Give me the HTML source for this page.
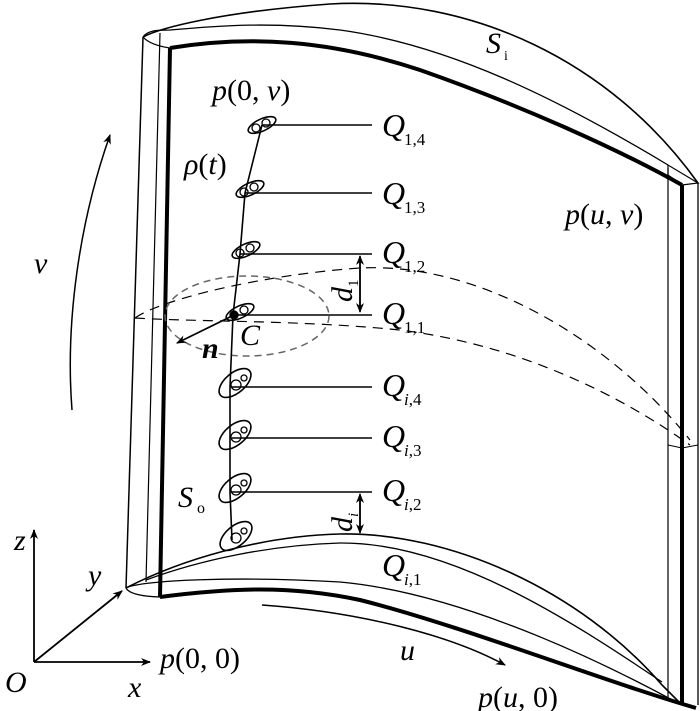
<!DOCTYPE html>
<html><head><meta charset="utf-8"><style>
html,body{margin:0;padding:0;background:#fff;}
svg{display:block;}
text{font-family:"Liberation Serif","DejaVu Serif",serif;fill:#000;}
</style></head><body>
<svg width="700" height="711" viewBox="0 0 700 711" xmlns="http://www.w3.org/2000/svg">
<defs>
<marker id="ah" markerWidth="10" markerHeight="10" refX="9" refY="5" orient="auto" markerUnits="userSpaceOnUse">
<path d="M0,1 L10,5 L0,9 L3,5 Z" fill="#000"/></marker>
</defs>
<g fill="none" stroke="#000">
<path d="M143,37 L126,588" stroke-width="1.5"/>
<path d="M160,33 L146,582" stroke-width="1.2"/>
<path d="M170,48 L160,597" stroke-width="4"/>
<path d="M143,37 C160,28 220,12 330,4 C470,-4 610,60 698,183" stroke-width="1.6"/>
<path d="M143,37 C148,30 158,30 170,30 C200,28 260,20 340,30 C450,45 560,100 668,165" stroke-width="1.3"/>
<path d="M143,37 Q150,45 170,48" stroke-width="1.3"/>
<path d="M170,48 C250,35 330,40 420,70 C520,105 620,150 682,185" stroke-width="4"/>
<path d="M668,165 L668,175 L682,185 L698,183 Z" stroke-width="1.2"/>
<path d="M668,168 L668,700" stroke-width="1.2"/>
<path d="M682,185 L682,705" stroke-width="4"/>
<path d="M698,183 L698,705" stroke-width="1.3"/>
<path d="M668,445 L682,448 L698,445" stroke-width="1"/>
<path d="M126,588 C180,560 260,536 340,534 C450,532 580,590 662,685 L682,705" stroke-width="1.6"/>
<path d="M146,580 C200,560 270,545 340,543 C450,542 570,620 662,682" stroke-width="1.3"/>
<path d="M126,588 C140,580 240,576 340,582 C450,592 580,650 676,702" stroke-width="1.3"/>
<path d="M126,588 Q130,596 160,597" stroke-width="1.3"/>
<path d="M160,597 C230,588 290,585 360,600 C460,625 600,680 696,708" stroke-width="4"/>
<path d="M135,318 C160,300 260,275 360,268 C480,262 610,340 690,440" stroke-width="1.2" stroke-dasharray="10,7"/>
<path d="M135,318 C200,322 300,320 400,330 C520,345 620,395 690,445" stroke-width="1.2" stroke-dasharray="10,7"/>
<ellipse cx="247" cy="316" rx="82" ry="40" stroke="#666" stroke-width="1.5" stroke-dasharray="7,5"/>
<path d="M262,125 L245,193 L240,254 L233,315 L230,387 L230,438 L230,492 L232,540" stroke-width="1.6"/>
<g stroke-width="1.6">
<path d="M262,125 H372"/><path d="M245,193 H372"/><path d="M240,254 H372"/><path d="M233,315 H372"/>
<path d="M232,387 H372"/><path d="M232,438 H372"/><path d="M232,492 H372"/>
</g>
<g stroke-width="1.6">
<ellipse cx="262" cy="125" rx="15" ry="6" transform="rotate(-25 262 125)"/>
<ellipse cx="250" cy="189" rx="15" ry="6" transform="rotate(-25 250 189)"/>
<ellipse cx="246" cy="250" rx="15" ry="6" transform="rotate(-25 246 250)"/>
<ellipse cx="240" cy="312" rx="15" ry="6" transform="rotate(-25 240 312)"/>
<ellipse cx="235" cy="383" rx="19" ry="10" transform="rotate(-40 235 383)"/>
<ellipse cx="235" cy="435" rx="19" ry="10" transform="rotate(-40 235 435)"/>
<ellipse cx="235" cy="488" rx="19" ry="10" transform="rotate(-40 235 488)"/>
<ellipse cx="236" cy="536" rx="19" ry="10" transform="rotate(-40 236 536)"/>
</g>
<g stroke-width="1.3">
<circle cx="256" cy="128" r="4"/><circle cx="266" cy="123" r="4"/>
<circle cx="244" cy="192" r="4"/><circle cx="254" cy="187" r="4"/>
<circle cx="240" cy="253" r="4"/><circle cx="250" cy="248" r="4"/>
<circle cx="234" cy="315" r="4" fill="#000"/><circle cx="244" cy="310" r="4"/>
<circle cx="236" cy="385" r="5"/><circle cx="244" cy="378" r="3"/>
<circle cx="236" cy="437" r="5"/><circle cx="244" cy="430" r="3"/>
<circle cx="236" cy="490" r="5"/><circle cx="244" cy="483" r="3"/>
<circle cx="236" cy="538" r="5"/><circle cx="244" cy="531" r="3"/>
</g>
<path d="M360,258 L360,312" stroke-width="1.6" marker-end="url(#ah)"/>
<path d="M360,310 L360,256" stroke-width="1.6" marker-end="url(#ah)"/>
<path d="M360,496 L360,533" stroke-width="1.6" marker-end="url(#ah)"/>
<path d="M360,531 L360,494" stroke-width="1.6" marker-end="url(#ah)"/>
<path d="M232,316 L177,343" stroke-width="1.8" marker-end="url(#ah)"/>
<path d="M34,662 L34,530" stroke-width="1.8" marker-end="url(#ah)"/>
<path d="M34,662 L150,662" stroke-width="1.8" marker-end="url(#ah)"/>
<path d="M34,662 L122,591" stroke-width="1.8" marker-end="url(#ah)"/>
<path d="M262,605 C360,612 450,635 505,665" stroke-width="1.5" marker-end="url(#ah)"/>
<path d="M72,410 C65,320 80,220 110,135" stroke-width="1.5" marker-end="url(#ah)"/>
</g>
<g font-style="italic" font-size="30">
<text x="212" y="100">p<tspan font-style="normal">(0, </tspan>v<tspan font-style="normal">)</tspan></text>
<text x="184" y="174">ρ<tspan font-style="normal">(</tspan>t<tspan font-style="normal">)</tspan></text>
<text x="565" y="224">p<tspan font-style="normal">(</tspan>u<tspan font-style="normal">, </tspan>v<tspan font-style="normal">)</tspan></text>
<text x="160" y="668">p<tspan font-style="normal">(0, 0)</tspan></text>
<text x="478" y="707">p<tspan font-style="normal">(</tspan>u<tspan font-style="normal">, 0)</tspan></text>
<text x="486" y="53">S</text><text x="504" y="60" font-size="14" font-style="normal">i</text>
<text x="178" y="507">S</text><text x="197" y="513" font-size="16" font-style="normal">o</text>
<text x="240" y="345">C</text>
<text x="202" y="358" font-weight="bold">n</text>
<text x="34" y="273">v</text>
<text x="400" y="660">u</text>
<text x="14" y="550">z</text>
<text x="88" y="585">y</text>
<text x="5" y="692">O</text>
<text x="128" y="697">x</text>
</g>
<g font-style="italic" font-size="32">
<text x="382" y="136">Q</text><text x="404" y="145" font-size="17" font-style="normal">1,4</text>
<text x="382" y="204">Q</text><text x="404" y="213" font-size="17" font-style="normal">1,3</text>
<text x="382" y="263">Q</text><text x="404" y="272" font-size="17" font-style="normal">1,2</text>
<text x="382" y="324">Q</text><text x="404" y="333" font-size="17" font-style="normal">1,1</text>
<text x="382" y="396">Q</text><text x="404" y="405" font-size="17"><tspan>i</tspan><tspan font-style="normal">,4</tspan></text>
<text x="382" y="447">Q</text><text x="404" y="456" font-size="17"><tspan>i</tspan><tspan font-style="normal">,3</tspan></text>
<text x="382" y="501">Q</text><text x="404" y="510" font-size="17"><tspan>i</tspan><tspan font-style="normal">,2</tspan></text>
<text x="382" y="576">Q</text><text x="404" y="585" font-size="17"><tspan>i</tspan><tspan font-style="normal">,1</tspan></text>
<text transform="translate(352,302) rotate(-90)" font-size="30">d<tspan font-size="15" font-style="normal" dy="6">1</tspan></text>
<text transform="translate(352,532) rotate(-90)" font-size="30">d<tspan font-size="15" dy="6">i</tspan></text>
</g>
</svg>
</body></html>
